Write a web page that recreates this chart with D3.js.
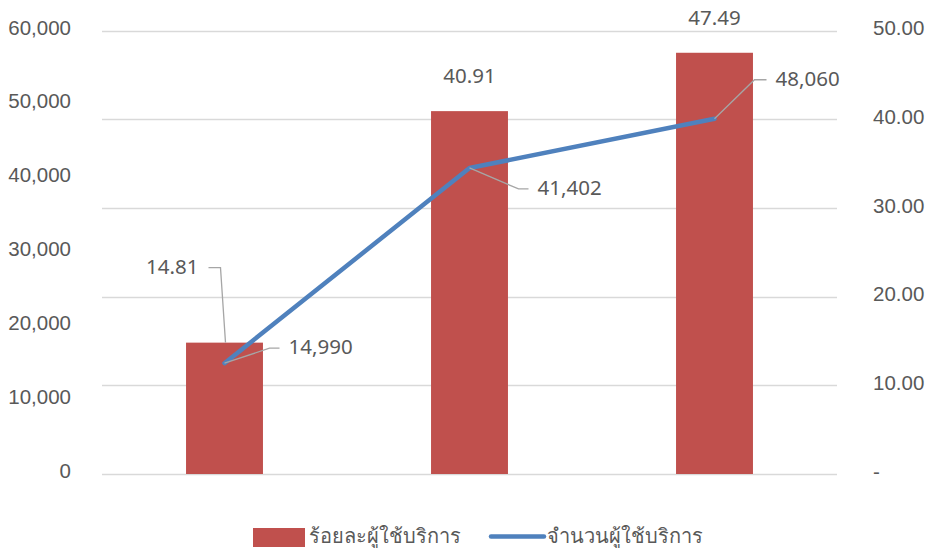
<!DOCTYPE html>
<html>
<head>
<meta charset="utf-8">
<script src="https://cdn.jsdelivr.net/npm/d3@7/dist/d3.min.js"></script>
<style>
  html, body { margin: 0; padding: 0; background: #fff; }
  svg { display: block; font-family: "Noto Sans", "Open Sans", sans-serif; }
</style>
</head>
<body>
<svg id="chart" width="926" height="548"></svg>
<script>
const categories = ["1", "2", "3"];
const percentValues = [14.81, 40.91, 47.49];
const userCounts = [14990, 41402, 48060];
const leftTicks = [0, 10000, 20000, 30000, 40000, 50000, 60000];
const rightTicks = [0, 10, 20, 30, 40, 50];
const seriesNames = ["ร้อยละผู้ใช้บริการ", "จำนวนผู้ใช้บริการ"];

const barColor = "#c0504d";
const lineColor = "#4f81bd";
const textColor = "#595959";
const gridColor = "#d9d9d9";

const svg = d3.select("#chart");
const plot = { left: 102, right: 837, top: 30.5, bottom: 474 };

const x = d3.scaleBand().domain(categories).range([plot.left, plot.right])
  .paddingInner(0.686).paddingOuter(0.343);
const yLeft = d3.scaleLinear().domain([0, 60000]).range([plot.bottom, plot.top]);
const yRight = d3.scaleLinear().domain([0, 50]).range([plot.bottom, plot.top]);

// gridlines (right axis)
svg.append("g").selectAll("line").data(rightTicks).join("line")
  .attr("x1", plot.left).attr("x2", plot.right)
  .attr("y1", d => Math.round(yRight(d)) + 0.5).attr("y2", d => Math.round(yRight(d)) + 0.5)
  .attr("stroke", gridColor).attr("stroke-width", 1.3);

// left axis
const fmtLeft = d3.format(",");
const la = svg.append("g").attr("transform", `translate(71,0)`)
  .call(d3.axisLeft(yLeft).tickValues(leftTicks).tickFormat(fmtLeft).tickSize(0).tickPadding(0));
la.select(".domain").remove();
la.selectAll("text").attr("fill", textColor).style("font-size", "20.5px").attr("dy", "0.17em");

// right axis
const ra = svg.append("g").attr("transform", `translate(873,0)`)
  .call(d3.axisRight(yRight).tickValues(rightTicks).tickFormat(d => d === 0 ? "-" : d3.format(".2f")(d)).tickSize(0).tickPadding(0));
ra.select(".domain").remove();
ra.selectAll("text").attr("fill", textColor).style("font-size", "20.5px").attr("dy", "0.2em");

// bars
svg.append("g").selectAll("rect").data(percentValues).join("rect")
  .attr("x", (d, i) => x(categories[i]))
  .attr("width", x.bandwidth())
  .attr("y", d => yRight(d))
  .attr("height", d => plot.bottom - yRight(d))
  .attr("fill", barColor);

// line
const cx = i => x(categories[i]) + x.bandwidth() / 2;
const line = d3.line().x((d, i) => cx(i)).y(d => yLeft(d));
svg.append("path").datum(userCounts)
  .attr("d", line).attr("fill", "none")
  .attr("stroke", lineColor).attr("stroke-width", 4.5)
  .attr("stroke-linejoin", "round").attr("stroke-linecap", "round");

const fsLabel = "20.5px";
const leaderColor = "#a6a6a6";

// bar labels
percentValues.forEach((v, i) => {
  const bx = cx(i), by = yRight(v);
  if (i === 0) {
    const ly = by - 75;
    svg.append("polyline")
      .attr("points", `${bx + 1},${by} ${bx - 4},${ly} ${bx - 16},${ly}`)
      .attr("fill", "none").attr("stroke", leaderColor).attr("stroke-width", 1.3);
    svg.append("text").attr("x", bx - 26).attr("y", ly).attr("dy", "0.3em")
      .attr("text-anchor", "end").attr("fill", textColor).style("font-size", fsLabel)
      .text(d3.format(".2f")(v));
  } else {
    svg.append("text").attr("x", bx).attr("y", by - 34).attr("dy", "0.3em")
      .attr("text-anchor", "middle").attr("fill", textColor).style("font-size", fsLabel)
      .text(d3.format(".2f")(v));
  }
});

// line labels with leaders
const lineLabelOffsets = [[45, -15, 10], [49, 21, 10], [40, -39, 12]];
userCounts.forEach((v, i) => {
  const px = cx(i), py = yLeft(v);
  const [dx, dy, h] = lineLabelOffsets[i];
  svg.append("polyline")
    .attr("points", `${px},${py} ${px + dx},${py + dy} ${px + dx + h},${py + dy}`)
    .attr("fill", "none").attr("stroke", leaderColor).attr("stroke-width", 1.3);
  svg.append("text").attr("x", px + dx + h + 9).attr("y", py + dy).attr("dy", "0.3em")
    .attr("fill", textColor).style("font-size", fsLabel)
    .text(fmtLeft(v));
});

// legend
const lg = svg.append("g");
lg.append("rect").attr("x", 253).attr("y", 528).attr("width", 52).attr("height", 19).attr("fill", barColor);
lg.append("text").attr("x", 309).attr("y", 536).attr("dy", "0.35em")
  .attr("fill", textColor).style("font-size", "20px").text(seriesNames[0]);
lg.append("line").attr("x1", 491).attr("x2", 544).attr("y1", 536.5).attr("y2", 536.5)
  .attr("stroke", lineColor).attr("stroke-width", 4.5).attr("stroke-linecap", "round");
lg.append("text").attr("x", 547).attr("y", 536).attr("dy", "0.35em")
  .attr("fill", textColor).style("font-size", "20px").text(seriesNames[1]);
</script>
</body>
</html>
